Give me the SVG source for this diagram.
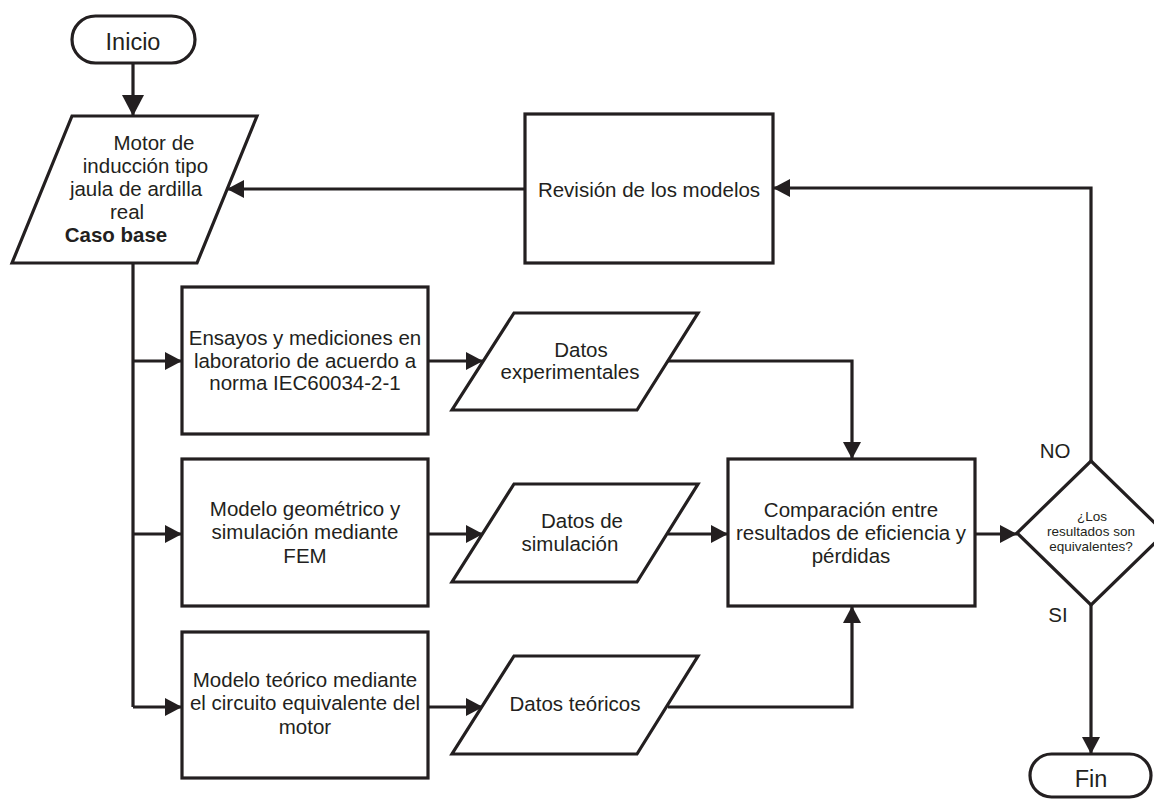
<svg xmlns="http://www.w3.org/2000/svg" width="1154" height="800" viewBox="0 0 1154 800">
  <style>
    .shape { fill: #ffffff; stroke: #231f20; stroke-width: 3.2; stroke-linejoin: miter; }
    .wire { fill: none; stroke: #231f20; stroke-width: 3.2; }
    .arrow { marker-end: url(#head); }
    text { font-family: "Liberation Sans", Arial, Helvetica, sans-serif; fill: #231f20; text-anchor: middle; }
    .body { font-size: 20.5px; }
    .term { font-size: 23.5px; }
    .small { font-size: 13.5px; }
    .bold { font-weight: bold; }
  </style>
  <defs>
    <marker id="head" viewBox="0 0 17 18" refX="17" refY="9" markerWidth="17" markerHeight="18" markerUnits="userSpaceOnUse" orient="auto">
      <path d="M0,0 L17,9 L0,18 z" fill="#231f20"/>
    </marker>
    <marker id="headBig" viewBox="0 0 21 22" refX="21" refY="11" markerWidth="21" markerHeight="22" markerUnits="userSpaceOnUse" orient="auto">
      <path d="M0,0 L21,11 L0,22 z" fill="#231f20"/>
    </marker>
  </defs>

  <rect width="1154" height="800" fill="#ffffff"/>

  <!-- connectors -->
  <g id="connectors">
    <path class="wire" d="M133,63 V116" marker-end="url(#headBig)"/>
    <path class="wire" d="M133,263 V707"/>
    <path class="wire arrow" d="M133,361 H182"/>
    <path class="wire arrow" d="M133,534 H182"/>
    <path class="wire arrow" d="M133,707 H182"/>
    <path class="wire arrow" d="M428,361 H483"/>
    <path class="wire arrow" d="M428,534 H483"/>
    <path class="wire arrow" d="M428,707 H483"/>
    <path class="wire arrow" d="M668,361 H852 V459"/>
    <path class="wire arrow" d="M668,534 H728"/>
    <path class="wire arrow" d="M668,707 H852 V606"/>
    <path class="wire arrow" d="M975,534 H1017"/>
    <path class="wire arrow" d="M1091,605 V754"/>
    <path class="wire arrow" d="M1091,461 V188 H773"/>
    <path class="wire arrow" d="M525,189 H227"/>
  </g>

  <!-- start -->
  <g id="inicio">
    <rect class="shape" x="72" y="16" width="123" height="47" rx="23.5" ry="23.5"/>
    <text class="term" x="133" y="50">Inicio</text>
  </g>

  <!-- input motor -->
  <g id="motor">
    <polygon class="shape" points="72,116 257,116 197,263 12,263"/>
    <text class="body" x="154" y="150">Motor de</text>
    <text class="body" x="145.5" y="173">inducción tipo</text>
    <text class="body" x="136" y="196">jaula de ardilla</text>
    <text class="body" x="127" y="219">real</text>
    <text class="body bold" x="116" y="242">Caso base</text>
  </g>

  <!-- model review -->
  <g id="revision">
    <rect class="shape" x="525" y="114" width="248" height="149"/>
    <text class="body" x="649" y="197">Revisión de los modelos</text>
  </g>

  <!-- lab tests -->
  <g id="ensayos">
    <rect class="shape" x="182" y="287" width="246" height="147"/>
    <text class="body" x="305" y="345">Ensayos y mediciones en</text>
    <text class="body" x="305" y="367.5">laboratorio de acuerdo a</text>
    <text class="body" x="305" y="390">norma IEC60034-2-1</text>
  </g>

  <g id="datos-exp">
    <polygon class="shape" points="514,313 698,313 637,410 452,410"/>
    <text class="body" x="581" y="357">Datos</text>
    <text class="body" x="570" y="379">experimentales</text>
  </g>

  <!-- FEM model -->
  <g id="fem">
    <rect class="shape" x="182" y="459" width="246" height="147"/>
    <text class="body" x="305" y="516">Modelo geométrico y</text>
    <text class="body" x="305" y="539">simulación mediante</text>
    <text class="body" x="305" y="563">FEM</text>
  </g>

  <g id="datos-sim">
    <polygon class="shape" points="514,484 698,484 637,582 452,582"/>
    <text class="body" x="582" y="528">Datos de</text>
    <text class="body" x="570" y="551">simulación</text>
  </g>

  <!-- theoretical model -->
  <g id="teorico">
    <rect class="shape" x="182" y="632" width="246" height="146"/>
    <text class="body" x="305" y="687">Modelo teórico mediante</text>
    <text class="body" x="305" y="710">el circuito equivalente del</text>
    <text class="body" x="305" y="734">motor</text>
  </g>

  <g id="datos-teo">
    <polygon class="shape" points="514,656 698,656 637,754 452,754"/>
    <text class="body" x="575" y="711">Datos teóricos</text>
  </g>

  <!-- comparison -->
  <g id="comparacion">
    <rect class="shape" x="728" y="459" width="247" height="147"/>
    <text class="body" x="851" y="517">Comparación entre</text>
    <text class="body" x="851" y="539.5">resultados de eficiencia y</text>
    <text class="body" x="851" y="563">pérdidas</text>
  </g>

  <!-- decision -->
  <g id="decision">
    <polygon class="shape" points="1091,461 1165,533 1091,605 1017,533"/>
    <text class="small" x="1092" y="521">¿Los</text>
    <text class="small" x="1091" y="536">resultados son</text>
    <text class="small" x="1091" y="551">equivalentes?</text>
    <text class="body" x="1055" y="458">NO</text>
    <text class="body" x="1058" y="622">SI</text>
  </g>

  <!-- end -->
  <g id="fin">
    <rect class="shape" x="1030" y="754" width="121" height="43" rx="21.5" ry="21.5"/>
    <text class="term" x="1091" y="787">Fin</text>
  </g>
</svg>
